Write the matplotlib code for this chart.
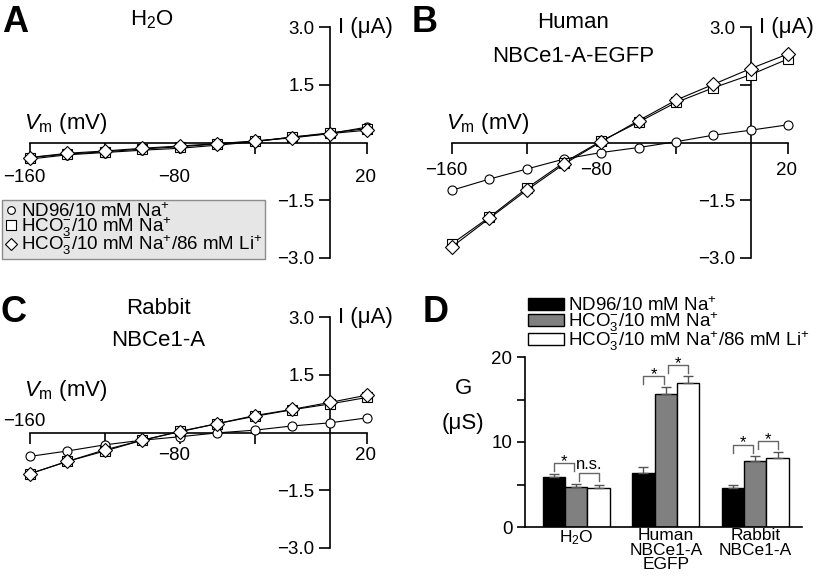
import matplotlib
matplotlib.use("Agg")
import matplotlib.pyplot as plt
from matplotlib import font_manager
from matplotlib.lines import Line2D
from matplotlib.patches import Patch
import numpy as np

# the figure uses a condensed Helvetica; use Arial Narrow metrics when available
names = {f.name for f in font_manager.fontManager.ttflist}
if "Liberation Sans Narrow" in names:
    base = "Liberation Sans Narrow"
    fs = 1.22
else:
    base = "Liberation Sans"
    fs = 1.0
plt.rcParams["font.family"] = [base, "DejaVu Sans"]
plt.rcParams["mathtext.fontset"] = "custom"
plt.rcParams["mathtext.rm"] = base
plt.rcParams["mathtext.it"] = base + ":italic"
plt.rcParams["mathtext.bf"] = base + ":bold"
plt.rcParams["axes.linewidth"] = 1.2

# membrane voltage steps (mV)
vm = [-160, -140, -120, -100, -80, -60, -40, -20, 0, 20]

# I-V currents (uA)
h2o_nd96 = [-0.43, -0.32, -0.26, -0.20, -0.15, -0.07, 0.02, 0.14, 0.23, 0.40]
h2o_hco3 = [-0.39, -0.30, -0.24, -0.17, -0.11, -0.04, 0.03, 0.14, 0.25, 0.36]
h2o_li = [-0.39, -0.28, -0.22, -0.15, -0.09, -0.03, 0.04, 0.12, 0.23, 0.32]

hum_nd96 = [-1.24, -0.95, -0.69, -0.43, -0.26, -0.13, 0.02, 0.19, 0.32, 0.46]
hum_hco3 = [-2.63, -1.94, -1.19, -0.52, 0.04, 0.53, 1.04, 1.42, 1.76, 2.17]
hum_li = [-2.71, -1.97, -1.24, -0.56, 0.02, 0.57, 1.10, 1.51, 1.92, 2.30]

rab_nd96 = [-0.62, -0.48, -0.32, -0.20, -0.11, -0.01, 0.06, 0.17, 0.25, 0.38]
rab_hco3 = [-1.07, -0.75, -0.48, -0.20, 0.03, 0.23, 0.42, 0.59, 0.74, 0.91]
rab_li = [-1.07, -0.75, -0.45, -0.20, 0.02, 0.23, 0.44, 0.60, 0.78, 0.97]

# conductance (uS), mean and SEM
groups = ["H$_2$O", "Human\nNBCe1-A\nEGFP", "Rabbit\nNBCe1-A"]
g_nd96 = [5.85, 6.35, 4.62]
g_nd96_err = [0.37, 0.70, 0.37]
g_hco3 = [4.75, 15.65, 7.75]
g_hco3_err = [0.33, 0.80, 0.65]
g_li = [4.63, 16.95, 8.10]
g_li_err = [0.37, 0.85, 0.70]
sig_labels = [["*", "n.s."], ["*", "*"], ["*", "*"]]

lbl_nd96 = "ND96/10 mM Na$^{+}$"
lbl_hco3 = "HCO$_3^{-}$/10 mM Na$^{+}$"
lbl_li = "HCO$_3^{-}$/10 mM Na$^{+}$/86 mM Li$^{+}$"

W, H = 819, 585
fig = plt.figure(figsize=(W / 100, H / 100), dpi=100)


def px_axes(x0, y0, x1, y1):
    return fig.add_axes([x0 / W, 1 - y1 / H, (x1 - x0) / W, (y1 - y0) / H])


def iv_panel(ax, nd96, hco3, li, lab_off, vm_off, first_above=False, hide_15=False):
    ax.set_xlim(-160, 20)
    ax.set_ylim(-3, 3)
    ax.patch.set_visible(False)
    for s in ["top", "right"]:
        ax.spines[s].set_visible(False)
    ax.spines["left"].set_position(("data", 0))
    ax.spines["bottom"].set_position(("data", 0))
    ax.spines["left"].set_bounds(-3, 3)
    ax.spines["bottom"].set_bounds(-160, 20)
    ax.set_xticks([-160, -120, -80, -40, 20])
    ax.set_xticklabels([])
    ax.tick_params(axis="x", direction="out", length=8, width=1.2)
    ax.set_yticks([-3, -1.5, 1.5, 3])
    ax.set_yticklabels(["\u22123.0", "\u22121.5", "" if hide_15 else "1.5", "3.0"],
                       fontsize=13.5 * fs)
    ax.tick_params(axis="y", direction="out", length=8, width=1.2, pad=3)
    for y, m, ms in [(nd96, "o", 6.5), (hco3, "s", 7), (li, "D", 7.2)]:
        ax.plot(vm, y, color="black", lw=0.8, marker=m, ms=ms,
                mfc="white", mec="black", mew=0.8, clip_on=False, zorder=3)
    for v, t in [(-160, "\u2212160"), (-80, "\u221280"), (20, "20")]:
        dx = -4 if v < 0 else -1
        dy = -lab_off
        if first_above and v == -160:
            dy = 8
        ax.annotate(t, (v, 0), xytext=(dx, dy), textcoords="offset points",
                    ha="center", va="center", fontsize=13.5 * fs, annotation_clip=False)
    ax.annotate("$V_\\mathrm{m}$ (mV)", (-160, 0), xytext=(-4, vm_off),
                textcoords="offset points", ha="left", va="center",
                fontsize=16 * fs, annotation_clip=False)
    ax.annotate("I (\u03bcA)", (0, 3), xytext=(6, 0), textcoords="offset points",
                ha="left", va="center", fontsize=16 * fs, annotation_clip=False)


axA = px_axes(30, 27, 367, 258)
iv_panel(axA, h2o_nd96, h2o_hco3, h2o_li, 25, 14)
axB = px_axes(452, 27, 788, 258)
iv_panel(axB, hum_nd96, hum_hco3, hum_li, 20, 14, hide_15=True)
axC = px_axes(30, 317, 367, 548)
iv_panel(axC, rab_nd96, rab_hco3, rab_li, 16.5, 30, first_above=True)

# titles and panel letters
fig.text(152 / W, 1 - 20 / H, "H$_2$O", ha="center", va="center", fontsize=16 * fs)
fig.text(573 / W, 1 - 22 / H, "Human", ha="center", va="center", fontsize=16 * fs)
fig.text(573 / W, 1 - 57 / H, "NBCe1-A-EGFP", ha="center", va="center", fontsize=16 * fs)
fig.text(158 / W, 1 - 309 / H, "Rabbit", ha="center", va="center", fontsize=16 * fs)
fig.text(158 / W, 1 - 341 / H, "NBCe1-A", ha="center", va="center", fontsize=16 * fs)
for lt, x, y in [("A", 2, 23), ("B", 412, 23), ("C", 0, 313), ("D", 423, 312)]:
    fig.text(x / W, 1 - y / H, lt, ha="left", va="center", fontsize=26,
             fontweight="bold", family=["Liberation Sans", "DejaVu Sans"])

# legend of the I-V panels
mk = dict(ls="none", mfc="white", mec="black", mew=0.8)
iv_handles = [Line2D([], [], marker="o", ms=5.5, **mk),
              Line2D([], [], marker="s", ms=6.5, **mk),
              Line2D([], [], marker="D", ms=6.5, **mk)]
fig.legend(iv_handles, [lbl_nd96, lbl_hco3, lbl_li], loc="upper left",
           bbox_to_anchor=(2 / W, 1 - 200 / H), borderaxespad=0, fontsize=13.5 * fs,
           handlelength=0.7, handletextpad=0.2, labelspacing=-0.3, borderpad=0.12,
           fancybox=False, facecolor="#e6e6e6", edgecolor="#8c8c8c", framealpha=1)

# conductance bar chart
axD = px_axes(525, 357, 802, 527)
x = np.arange(len(groups))
w = 0.25
series = [(g_nd96, g_nd96_err, "black"), (g_hco3, g_hco3_err, "#808080"), (g_li, g_li_err, "white")]
for i, (vals, errs, fc) in enumerate(series):
    axD.bar(x + (i - 1) * w, vals, w, color=fc, edgecolor="black", lw=1,
            yerr=[np.zeros(len(vals)), errs],
            error_kw=dict(ecolor="#555555", elinewidth=1, capsize=3.5, capthick=1))
axD.set_xlim(-0.573, 2.522)
axD.set_ylim(0, 20)
for s in ["top", "right"]:
    axD.spines[s].set_visible(False)
axD.spines["left"].set_bounds(0, 20)
axD.set_yticks([0, 5, 10, 15, 20])
axD.set_yticklabels(["0", "", "10", "", "20"], fontsize=13.5 * fs)
axD.tick_params(axis="y", length=6, width=1.2, pad=3)
axD.set_xticks(x)
axD.set_xticklabels(groups, fontsize=12.5 * fs, linespacing=0.95)
axD.tick_params(axis="x", length=0, pad=1)

tops = [np.array(v) + np.array(e) for v, e, _ in series]
for gi in range(len(groups)):
    for k in range(2):
        x0 = gi + (k - 1) * w + (0.0 if k == 0 else 0.03)
        x1 = gi + k * w - (0.02 if k == 0 else 0.0)
        yb = max(tops[k][gi], tops[k + 1][gi]) + 1.3
        axD.plot([x0, x0, x1, x1], [yb - 0.95, yb, yb, yb - 0.95], color="#666666", lw=1)
        lab = sig_labels[gi][k]
        ty = yb - 0.35 if lab == "*" else yb + 0.45
        axD.text((x0 + x1) / 2, ty, lab, ha="center", va="baseline", fontsize=12 * fs)

fig.text(464 / W, 1 - 389 / H, "G", ha="center", va="center", fontsize=16 * fs)
fig.text(463 / W, 1 - 423 / H, "(\u03bcS)", ha="center", va="center", fontsize=16 * fs)

bar_handles = [Patch(facecolor=fc, edgecolor="black") for _, _, fc in series]
fig.legend(bar_handles, [lbl_nd96, lbl_hco3, lbl_li], loc="upper left",
           bbox_to_anchor=(528 / W, 1 - 296 / H), borderaxespad=0, fontsize=13.5 * fs,
           frameon=False, handlelength=1.9 / fs, handleheight=0.55 / fs,
           handletextpad=0.25, labelspacing=-0.25, borderpad=0)

fig.savefig("out.png", dpi=100)
